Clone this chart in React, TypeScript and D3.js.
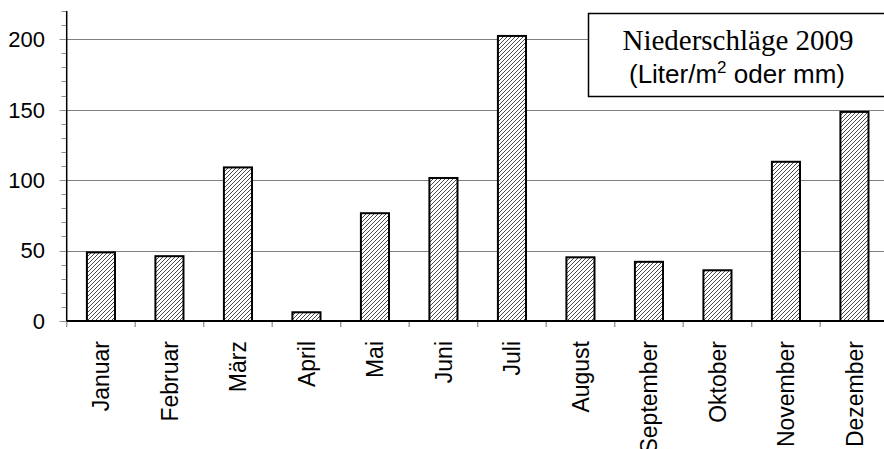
import React from "react";
import * as d3 from "d3";

const months = ["Januar","Februar","März","April","Mai","Juni","Juli","August","September","Oktober","November","Dezember"];
const values = [48.7, 46, 109, 6.2, 76.5, 101.5, 202.3, 45.2, 42, 36, 113, 148.4];
const majorTicks = [0, 50, 100, 150, 200];
const minorTicks = d3.range(0, 221, 10);
const titleLine1 = "Niederschläge 2009";

export default function App() {
  const W = 884, H = 449;
  const x0 = 66.7, x1 = 888.7;
  const y = d3.scaleLinear().domain([0, 220]).range([321, 11]);
  const x = d3.scaleBand<string>().domain(months).range([x0, x1]).paddingInner(0.59).paddingOuter(0.295);
  const band = (x1 - x0) / months.length;
  const boundaries = d3.range(0, months.length + 1).map(i => x0 + i * band);
  return (
    <svg width={W} height={H} style={{ position: "absolute", left: 0, top: 0, background: "#fff" }}>
      <defs>
        <pattern id="hatch" patternUnits="userSpaceOnUse" width="4" height="4">
          <rect width="4" height="4" fill="#fff" />
          <path d="M-1,1 l2,-2 M0,4 l4,-4 M3,5 l2,-2" stroke="#333" strokeWidth="0.9" />
        </pattern>
      </defs>
      {majorTicks.filter(t => t > 0).map(t => (
        <line key={"g" + t} x1={x0} x2={W} y1={Math.round(y(t)) + 0.5} y2={Math.round(y(t)) + 0.5} stroke="#808080" strokeWidth={1} />
      ))}
      {minorTicks.map(t => (
        <line key={"m" + t} x1={majorTicks.includes(t) ? 59.5 : 61.5} x2={x0} y1={Math.round(y(t)) + 0.5} y2={Math.round(y(t)) + 0.5} stroke="#909090" strokeWidth={1} />
      ))}
      {majorTicks.map(t => (
        <text key={"t" + t} x={45} y={y(t)} dy="0.36em" textAnchor="end" fontFamily="Liberation Sans, Arial, sans-serif" fontSize={22} fill="#000">{t}</text>
      ))}
      {boundaries.map((b, i) => (
        <line key={"b" + i} x1={b} x2={b} y1={321} y2={327} stroke="#999" strokeWidth={1.4} />
      ))}
      {months.map((m, i) => (
        <rect key={m} x={x(m)} y={y(values[i])} width={x.bandwidth()} height={y(0) - y(values[i])} fill="url(#hatch)" stroke="#000" strokeWidth={2} />
      ))}
      <line x1={x0} x2={x0} y1={11} y2={321} stroke="#000" strokeWidth={1.5} />
      <line x1={x0} x2={x1} y1={321} y2={321} stroke="#000" strokeWidth={2} />
      {months.map(m => (
        <text key={"l" + m} transform={`translate(${(x(m) as number) + x.bandwidth() / 2},341) rotate(-90)`} textAnchor="end" dy="0.36em" fontFamily="Liberation Sans, Arial, sans-serif" fontSize={23} fill="#000">{m}</text>
      ))}
      <rect x={588.5} y={13.5} width={298} height={83} fill="#fff" stroke="#000" strokeWidth={1.5} />
      <text x={738} y={50} textAnchor="middle" fontFamily="Liberation Serif, Times New Roman, serif" fontSize={29} fill="#000">{titleLine1}</text>
      <text x={737} y={83} textAnchor="middle" fontFamily="Liberation Sans, Arial, sans-serif" fontSize={26} fill="#000">
        (Liter/m<tspan fontSize={17} dy={-10}>2</tspan><tspan dy={10}> oder mm)</tspan>
      </text>
    </svg>
  );
}
